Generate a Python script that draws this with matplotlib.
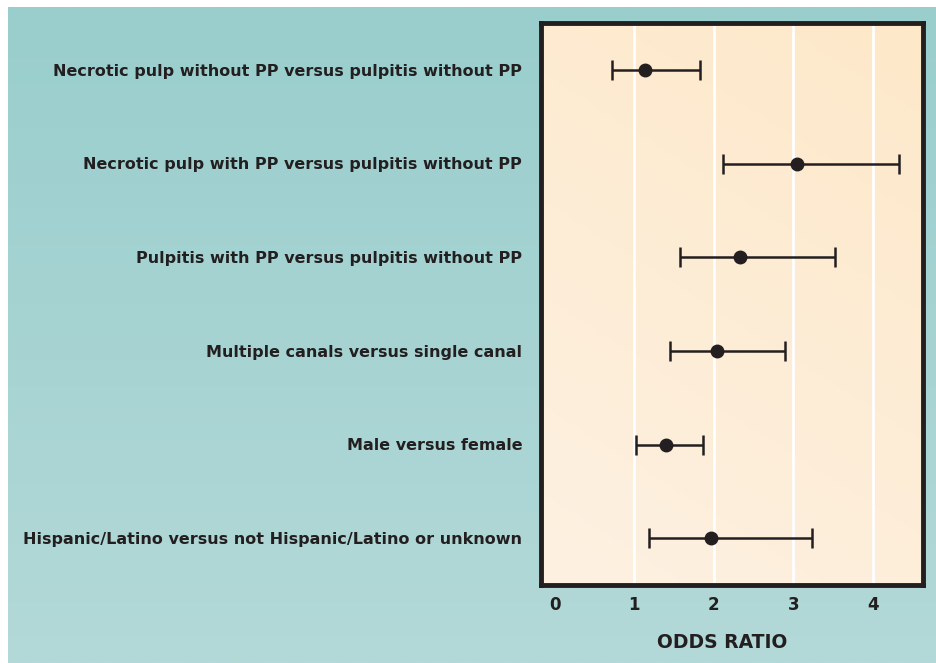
import numpy as np
import matplotlib.pyplot as plt
from matplotlib.colors import LinearSegmentedColormap

labels = [
    "Necrotic pulp without PP versus pulpitis without PP",
    "Necrotic pulp with PP versus pulpitis without PP",
    "Pulpitis with PP versus pulpitis without PP",
    "Multiple canals versus single canal",
    "Male versus female",
    "Hispanic/Latino versus not Hispanic/Latino or unknown",
]
odds = [1.14, 3.05, 2.33, 2.04, 1.40, 1.96]
lower = [0.72, 2.12, 1.58, 1.45, 1.03, 1.19]
upper = [1.83, 4.33, 3.52, 2.90, 1.86, 3.24]
ticks = [0, 1, 2, 3, 4]

dark = "#231f20"
plt.rcParams["font.family"] = ["DejaVu Sans"]
fig = plt.figure(figsize=(9.37, 6.63), dpi=100)

# teal backdrop with a slight vertical gradient
bg = fig.add_axes([8 / 937, 0, 1 - 8 / 937, 1 - 7 / 663], zorder=-10)
teal = LinearSegmentedColormap.from_list("teal", ["#b3d9d8", "#99cecd"])
bg.imshow(np.linspace(0, 1, 256).reshape(-1, 1), cmap=teal, aspect="auto",
          origin="lower", extent=[0, 1, 0, 1])
bg.axis("off")

ax = fig.add_axes([541 / 937, 1 - 585 / 663, (923 - 541) / 937, (585 - 23) / 663])
peach = LinearSegmentedColormap.from_list("peach", ["#fdf1e2", "#fde8c9"])
gx, gy = np.meshgrid(np.linspace(0, 1, 200), np.linspace(0, 1, 200))
ax.imshow(0.3 * gx + 0.7 * gy, cmap=peach, aspect="auto", origin="lower",
          extent=[-0.17, 4.63, 5.5, -0.5], zorder=0)
for t in ticks[1:]:
    ax.axvline(t, color="white", lw=2, zorder=1)

y = np.arange(len(labels))
xerr = [np.array(odds) - np.array(lower), np.array(upper) - np.array(odds)]
ax.errorbar(odds, y, xerr=xerr, fmt="o", color=dark, ms=9, lw=1.8,
            capsize=7, capthick=1.8, zorder=3)

ax.set_xlim(-0.17, 4.63)
ax.set_ylim(5.5, -0.5)
ax.set_xticks(ticks)
ax.set_xticklabels([str(t) for t in ticks], fontsize=12, fontweight="bold", color=dark)
ax.set_yticks(y)
ax.set_yticklabels(labels, fontsize=11.5, fontweight="bold", color=dark)
ax.tick_params(length=0, axis="x", pad=8)
ax.tick_params(length=0, axis="y", pad=13.5)
for s in ax.spines.values():
    s.set_linewidth(3.5)
    s.set_color(dark)

fig.text(722 / 937, 1 - 643 / 663, "ODDS RATIO", ha="center", va="center",
         fontsize=13.5, fontweight="bold", color=dark)

fig.savefig("out.png", dpi=100)
